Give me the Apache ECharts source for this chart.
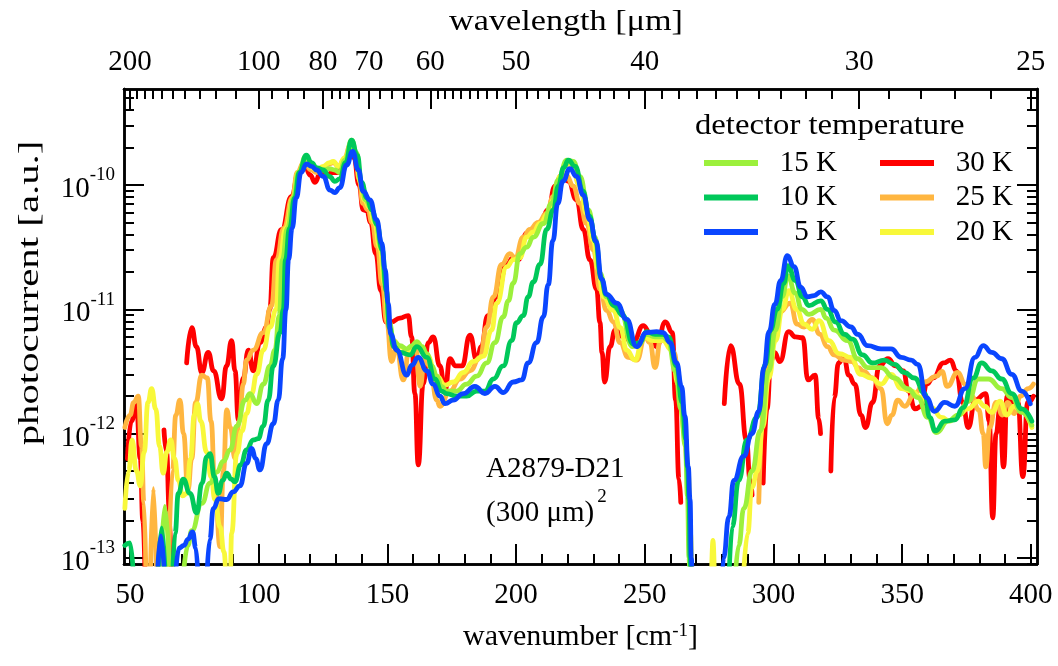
<!DOCTYPE html>
<html>
<head>
<meta charset="utf-8">
<script src="https://cdn.jsdelivr.net/npm/echarts@6/dist/echarts.min.js"></script>
<style>html,body{margin:0;padding:0;background:#fff}#chart{width:1058px;height:666px}</style>
</head>
<body>
<div id="chart"></div>
<script>
// ---------------- data (wavenumber [cm^-1], photocurrent [a.u.]) ----------------
const wavenumberTicks = [50,100,150,200,250,300,350,400];
const wavenumberMinorTicks = [60,70,80,90,110,120,130,140,160,170,180,190,210,220,230,240,260,270,280,290,310,320,330,340,360,370,380,390];
const wavelengthTicks = [200,100,80,70,60,50,40,30,25];
const wavelengthMinorTicks = [190,180,170,160,150,140,130,120,110,95,90,85,78,76,74,72,68,66,64,62,59,58,57,56,55,54,53,52,51,49,48,47,46,45,44,43,42,41,39,38,37,36,35,34,33,32,31,29,28,27,26];
const photocurrentDecades = [1e-13,1e-12,1e-11,1e-10];
const seriesNames = ['30 K','25 K','20 K','15 K','10 K','5 K'];

const pc30K = [[49,6.3e-13],[50.5,1.26e-12],[52.5,1.7e-12],[54,6.3e-13],[55,2.0e-13],[56,5e-14],[60,null],
[63.2,1.07e-12],[64.2,7.1e-13],[65.3,2.4e-13],[66.2,5e-14],[69,null],
[72,3.7e-12],[74,7.1e-12],[75.8,5.0e-12],[77.9,3.1e-12],[80.4,4.5e-12],[82.5,3.2e-12],[85.6,1.9e-12],[87.5,3.5e-12],[89.5,5.6e-12],[90.8,3.2e-12],[92.1,1.3e-12],[94,2.8e-12],[96,4.7e-12],[97.9,3.2e-12],[100.5,5.4e-12],[103.1,7.2e-12],[104.3,1.0e-11],[105.7,2.6e-11],[108.9,4.4e-11],[112.8,8.1e-11],[115.5,1.26e-10],[118.2,1.38e-10],[120,1.2e-10],[121.9,1.05e-10],[124,1.26e-10],[126,1.17e-10],[128.5,1.26e-10],[131,1.26e-10],[133,1.51e-10],[135.5,1.91e-10],[137,1.66e-10],[139,1.0e-10],[140.6,6.3e-11],[142,6.2e-11],[143.5,5.0e-11],[145.5,2.8e-11],[147.5,1.41e-11],[149.5,7.9e-12],[151.5,7.9e-12],[154.9,8.5e-12],[158.1,8.9e-12],[159.4,6.0e-12],[160.7,2.1e-12],[162,5.6e-13],[163.9,2.5e-12],[165.9,5.4e-12],[167.8,6.0e-12],[170.4,3.5e-12],[172.4,2.2e-12],[174.3,4.0e-12],[176.5,3.5e-12],[179,3.5e-12],[182.1,6.2e-12],[184.7,3.9e-12],[186.5,5.0e-12],[189,8.9e-12],[192.5,1.26e-11],[196.4,2.3e-11],[198.9,2.6e-11],[200.9,2.5e-11],[204.1,4.1e-11],[206.7,4.4e-11],[209.3,4.9e-11],[212.5,6.3e-11],[215.1,9.8e-11],[217.7,1.2e-10],[220.3,1.07e-10],[223.5,7.6e-11],[226.1,4.4e-11],[228.7,2.5e-11],[231.3,1.45e-11],[232.6,7.8e-12],[233.4,4.5e-12],[234.4,2.6e-12],[236.5,5.0e-12],[238.5,6.8e-12],[241.7,6.0e-12],[245.5,5.4e-12],[249.4,7.4e-12],[252,6.5e-12],[254.6,5.0e-12],[258,7.9e-12],[260.7,6.5e-12],[262,1.86e-12],[263.3,4.3e-13],[264,2.8e-13],[272,null],
[280.9,1.74e-12],[283.3,5.1e-12],[286.8,2.5e-12],[289.5,8.9e-13],[290.9,4.3e-13],[291.7,3.2e-13],[293.5,null],
[296,4.0e-13],[297.5,1.58e-12],[299,3.8e-12],[300.4,4.5e-12],[302.5,3.8e-12],[305.9,6.6e-12],[308.6,6.0e-12],[311.4,5.9e-12],[313.4,2.7e-12],[316.2,2.95e-12],[317.6,1.32e-12],[318.3,1.0e-12],[320,null],
[322.3,5.0e-13],[323.6,1.95e-12],[325.3,3.7e-12],[327.3,4.2e-12],[329.3,2.95e-12],[331.6,2.5e-12],[334,1.41e-12],[335.8,1.12e-12],[338.5,1.78e-12],[341.2,3.5e-12],[344.5,4.0e-12],[347.5,3.5e-12],[350.5,3.2e-12],[352.4,2.2e-12],[355,1.58e-12],[357.5,1.66e-12],[359.5,2.5e-12],[362,2.8e-12],[366.1,3.7e-12],[368.8,3.9e-12],[371,3.2e-12],[373.5,1.78e-12],[375.7,1.12e-12],[378.4,1.86e-12],[382.5,2.1e-12],[383.8,1.26e-12],[385.2,2.1e-13],[386.5,1.0e-12],[388,1.58e-12],[389.4,5.4e-13],[390.8,2.0e-12],[393,1.78e-12],[395,1.78e-12],[396.9,4.5e-13],[398.8,1.78e-12],[401,2.0e-12]];

const pc25K = [[48,1.12e-12],[50,1.41e-12],[51.5,1.78e-12],[53.2,2.0e-12],[54.5,7.9e-13],[55.4,2.8e-13],[56.3,5e-14],[57,null],
[57.8,5e-14],[59.1,3.6e-13],[60.4,5e-14],[62,null],
[64.8,5e-14],[66.5,5.0e-13],[67.8,1.41e-12],[69.4,1.86e-12],[70.8,1.0e-12],[72.5,3.5e-13],[74,6.3e-13],[75.5,1.78e-12],[77.9,2.95e-12],[80,2.8e-12],[81.5,1.26e-12],[83,3.7e-13],[85,1.23e-13],[86.3,5.0e-13],[87.6,1.55e-12],[89,1.12e-12],[90.8,6.3e-13],[92.5,1.26e-12],[94,2.5e-12],[95.3,3.9e-12],[97.9,4.7e-12],[101.8,6.5e-12],[105,1.07e-11],[106.9,2.5e-11],[109.8,4.5e-11],[113.1,7.9e-11],[115,1.26e-10],[117.5,1.51e-10],[120.5,1.32e-10],[122.5,1.26e-10],[125,1.38e-10],[127.5,1.48e-10],[129,1.51e-10],[131,1.41e-10],[133,1.58e-10],[135.7,2.09e-10],[137.5,1.78e-10],[139,1.12e-10],[140.5,7.1e-11],[142.5,6.3e-11],[144,5.0e-11],[146,3.2e-11],[148,1.58e-11],[149.8,7.9e-12],[151.6,3.8e-12],[153.5,5.0e-12],[156.2,2.7e-12],[158.5,4.8e-12],[161,5.0e-12],[162.7,2.4e-12],[164.5,4.0e-12],[166.5,3.5e-12],[169.2,1.86e-12],[170.4,1.66e-12],[174.3,2.2e-12],[178.2,2.75e-12],[182.1,3.2e-12],[186,4.1e-12],[188.6,7.2e-12],[191.2,1.26e-11],[194.4,2.3e-11],[197.6,2.8e-11],[199.6,2.6e-11],[202.8,3.8e-11],[205.4,4.4e-11],[208.6,5.0e-11],[211.9,5.9e-11],[214.5,8.1e-11],[217.1,1.12e-10],[219.5,1.2e-10],[222.2,9.8e-11],[224.8,7.1e-11],[227.4,4.9e-11],[230,3.0e-11],[232.6,1.45e-11],[235.2,9.8e-12],[237.8,7.9e-12],[240.4,5.4e-12],[243.6,4.1e-12],[246.9,3.9e-12],[250.1,6.0e-12],[252,5.4e-12],[254,3.4e-12],[256.1,5.6e-12],[258.7,6.0e-12],[261.4,4.5e-12],[263.3,2.5e-12],[265.3,1.15e-12],[266.6,5.4e-13],[267.8,1.26e-13],[268.5,5e-14],[280,null],
[294.3,2.8e-13],[296.3,1.86e-12],[299,6.5e-12],[302.5,9.5e-12],[306.5,1.12e-11],[309.2,7.6e-12],[311.9,7.2e-12],[315.1,8.3e-12],[318,6.3e-12],[321,5.0e-12],[323.6,4.3e-12],[327.5,3.9e-12],[330.5,3.8e-12],[333,3.4e-12],[335,3.16e-12],[338.5,2.8e-12],[341.8,2.3e-12],[344.2,1.2e-12],[346,1.41e-12],[348.3,1.86e-12],[351,1.66e-12],[354.9,2.1e-12],[358.8,2.6e-12],[363.4,2.9e-12],[365.5,3.16e-12],[367.5,2.4e-12],[371.6,3.1e-12],[374.5,2.5e-12],[377,2.0e-12],[379.8,1.55e-12],[381.5,1.0e-12],[382.5,5.4e-13],[384,1.12e-12],[386.5,1.78e-12],[389,1.41e-12],[391,1.78e-12],[393.5,1.45e-12],[396,2.0e-12],[399,2.3e-12],[401,2.5e-12]];

const pc20K = [[48,2.5e-13],[49.5,5.0e-13],[50.8,8.9e-13],[52.5,5.0e-13],[54,3.8e-13],[55.5,7.1e-13],[57,1.78e-12],[58.4,2.3e-12],[60,1.58e-12],[61.5,7.9e-13],[62.9,4.8e-13],[64.3,7.1e-13],[65.8,8.9e-13],[67.3,6.3e-13],[68.8,4.2e-13],[70.5,3.16e-13],[72,3.3e-13],[73.5,6.3e-13],[75,1.41e-12],[76.2,1.74e-12],[77.5,1.26e-12],[79.8,7.1e-13],[81.5,4.5e-13],[83,2.95e-13],[85,1.78e-13],[86.5,1.12e-13],[87.8,5e-14],[88.8,5e-14],[89.5,1.58e-13],[91.5,6.9e-13],[93.5,1.05e-12],[95.3,1.45e-12],[97.3,2.1e-12],[99.2,3.0e-12],[101.8,4.7e-12],[104.4,7.2e-12],[106.8,1.0e-11],[108,2.5e-11],[110.6,4.5e-11],[113.5,7.9e-11],[115.3,1.26e-10],[118.3,1.58e-10],[120.5,1.38e-10],[122.5,1.32e-10],[125,1.41e-10],[127.5,1.51e-10],[129,1.55e-10],[131,1.41e-10],[133.5,1.66e-10],[136,2.14e-10],[137.8,1.74e-10],[139.5,1.05e-10],[141,7.6e-11],[143,6.6e-11],[145,5.0e-11],[147,3.16e-11],[149,1.58e-11],[150.5,7.9e-12],[152.5,5.6e-12],[154.9,5.0e-12],[158.8,4.5e-12],[162,5.1e-12],[165.3,4.3e-12],[169.2,2.9e-12],[172.4,2.45e-12],[175.6,2.6e-12],[179.5,3.1e-12],[183.4,3.8e-12],[187.3,4.2e-12],[190.5,6.8e-12],[192.5,1.12e-11],[196.4,2.2e-11],[198.9,2.5e-11],[201.5,2.6e-11],[204.1,3.8e-11],[206.7,4.2e-11],[209.3,4.9e-11],[212.5,5.9e-11],[214.5,7.6e-11],[217.1,1.17e-10],[219,1.45e-10],[221.6,1.41e-10],[224.8,9.8e-11],[227.4,5.9e-11],[230,3.6e-11],[231.9,2.1e-11],[233.9,1.26e-11],[237.8,9.8e-12],[240.5,7.1e-12],[243,4.7e-12],[246.2,3.9e-12],[249.4,6.0e-12],[253.3,5.6e-12],[257,5.6e-12],[260.4,4.7e-12],[263,2.5e-12],[265.6,1.0e-12],[266.9,4.8e-13],[267.8,1.58e-13],[268.3,5e-14],[272,null],
[275.8,5e-14],[276.5,1.38e-13],[277.2,5e-14],[282,null],
[288,5e-14],[290,1.58e-13],[291.6,3.7e-13],[293.8,5.0e-13],[295.8,1.12e-12],[298.2,2.8e-12],[300.8,5.6e-12],[303.5,1.0e-11],[306,1.41e-11],[309,1.0e-11],[311.9,7.6e-12],[315.1,6.9e-12],[317.7,8.1e-12],[321.6,5.6e-12],[325.5,4.4e-12],[330.1,4.1e-12],[333.9,3.0e-12],[337.9,2.8e-12],[341.8,2.5e-12],[345.7,3.0e-12],[349.7,2.3e-12],[353.5,2.2e-12],[357.5,1.95e-12],[361.4,1.62e-12],[365.3,1.35e-12],[368.5,1.26e-12],[371.8,1.41e-12],[375.5,1.58e-12],[379.6,1.82e-12],[382,1.66e-12],[384.8,1.48e-12],[388,1.82e-12],[390.6,1.41e-12],[393.5,1.66e-12],[396.5,1.51e-12],[400.4,1.12e-12]];

const pc15K = [[61.8,6.3e-14],[63.5,2.6e-13],[65.5,6.3e-14],[68,null],
[70.5,6.3e-14],[72.5,1.26e-13],[74,1.66e-13],[77.9,2.75e-13],[81.1,4.0e-13],[83.7,4.9e-13],[86.3,6.0e-13],[88.9,7.4e-13],[91.5,1.15e-12],[94.7,1.86e-12],[96.6,2.1e-12],[99.2,1.74e-12],[101.8,2.5e-12],[104.4,3.5e-12],[106.3,4.7e-12],[108,8.9e-12],[109.2,2.5e-11],[111.2,4.5e-11],[113.5,7.9e-11],[115.5,1.26e-10],[118.3,1.7e-10],[120.5,1.48e-10],[122.5,1.35e-10],[125,1.32e-10],[127.5,1.35e-10],[129.6,1.32e-10],[131.5,1.26e-10],[133.5,1.58e-10],[136.1,2.29e-10],[138,1.82e-10],[139.8,1.05e-10],[141.5,7.6e-11],[143.5,6.6e-11],[145.5,5.0e-11],[147.5,3.16e-11],[149.3,1.58e-11],[150.7,7.9e-12],[152.5,5.5e-12],[154.9,5.1e-12],[157.5,4.8e-12],[159.5,5.1e-12],[161.4,5.5e-12],[163.5,5.0e-12],[165.3,4.4e-12],[167.3,3.5e-12],[169.2,2.9e-12],[171,2.4e-12],[173,2.2e-12],[176.9,2.2e-12],[180.8,2.5e-12],[184.7,2.9e-12],[188.6,3.7e-12],[191.8,5.4e-12],[195,8.7e-12],[197,1.17e-11],[198.9,1.62e-11],[201.5,2.8e-11],[204.1,3.16e-11],[206.7,3.8e-11],[210.6,4.9e-11],[213.8,7.1e-11],[216.4,1.1e-10],[219.7,1.58e-10],[222.2,1.55e-10],[224.8,1.17e-10],[228.1,6.3e-11],[230.7,3.8e-11],[232.6,1.95e-11],[235.2,1.26e-11],[240.4,9.8e-12],[245.3,5.0e-12],[248,5.25e-12],[250.5,6.3e-12],[254,6.0e-12],[257,6.0e-12],[259,5.6e-12],[262,3.16e-12],[264,1.58e-12],[265.8,7.9e-13],[266.6,3.16e-13],[267.2,1.0e-13],[267.6,5e-14],[276,null],
[284.8,5e-14],[286.5,1.26e-13],[288.5,2.5e-13],[291.7,5.0e-13],[294.9,1.05e-12],[298.2,3.2e-12],[300.8,6.8e-12],[303.4,1.26e-11],[305.6,1.86e-11],[308.5,1.35e-11],[311,1.0e-11],[313.8,9.1e-12],[318.4,1.0e-11],[320.5,8.5e-12],[323.6,6.8e-12],[328.8,5.6e-12],[332.7,4.0e-12],[336.6,3.4e-12],[341.8,3.4e-12],[347,2.8e-12],[352.2,2.3e-12],[356.1,1.95e-12],[360,1.35e-12],[363.3,1.02e-12],[367.9,1.26e-12],[371.8,1.41e-12],[375.7,1.82e-12],[379.6,2.75e-12],[383.5,2.75e-12],[388.7,2.3e-12],[392.6,1.95e-12],[396.5,1.48e-12],[400.4,1.17e-12]];

const pc10K = [[48,1.26e-13],[50,1.32e-13],[51.5,6.3e-14],[56,null],
[60.8,6.3e-14],[62.3,1.74e-13],[63.8,6.3e-14],[65.2,null],
[66.5,6.3e-14],[67.5,1.58e-13],[68.8,3.3e-13],[70.7,4.3e-13],[73.3,3.3e-13],[75.9,2.3e-13],[78,4.0e-13],[79.8,6.5e-13],[81.1,6.9e-13],[82.8,4.5e-13],[84.3,3.3e-13],[86,4.2e-13],[87.6,4.8e-13],[89.3,4.3e-13],[90.8,4.1e-13],[93,5.6e-13],[95.3,7.4e-13],[97.9,8.9e-13],[99.8,9.1e-13],[101.8,1.15e-12],[103.7,1.86e-12],[105.7,3.5e-12],[108.3,6.5e-12],[109.6,1.0e-11],[110.4,2.5e-11],[112,4.5e-11],[114,7.9e-11],[115.8,1.26e-10],[118.5,1.74e-10],[120.5,1.51e-10],[122.5,1.38e-10],[125,1.32e-10],[127.5,1.17e-10],[129.6,1.07e-10],[131.5,1.12e-10],[133.8,1.51e-10],[136.1,2.29e-10],[138.3,1.74e-10],[140,1.05e-10],[142,7.9e-11],[144,6.3e-11],[146,4.8e-11],[148,3.0e-11],[149.6,1.41e-11],[150.8,7.1e-12],[152.5,5.0e-12],[155,4.5e-12],[158.8,4.3e-12],[161.5,5.0e-12],[165.3,4.1e-12],[168.5,2.75e-12],[171,2.2e-12],[173,2.1e-12],[176.9,2.0e-12],[180.8,2.0e-12],[184.7,2.2e-12],[187.9,2.2e-12],[191.2,2.75e-12],[195,3.5e-12],[198.3,5.6e-12],[200.2,7.8e-12],[202.8,8.9e-12],[204.7,1.26e-11],[206.7,1.66e-11],[209.3,2.3e-11],[211.9,4.4e-11],[214.5,6.3e-11],[216.4,9.8e-11],[218.5,1.38e-10],[220.3,1.58e-10],[223,1.41e-10],[226,8.9e-11],[228.5,5.6e-11],[231,3.5e-11],[233,1.78e-11],[235,1.32e-11],[238,1.07e-11],[241.5,8.9e-12],[245.5,5.25e-12],[248,5.4e-12],[250.7,6.6e-12],[254,6.3e-12],[257,6.3e-12],[259.2,6.0e-12],[262.4,3.5e-12],[264.5,1.78e-12],[266,8.9e-13],[266.6,5.4e-13],[267.2,2.95e-13],[267.6,1.0e-13],[268,5e-14],[275,null],
[282.5,5e-14],[284,1.78e-13],[286.5,4.2e-13],[289.7,8.9e-13],[293.6,1.35e-12],[296.9,3.6e-12],[298.8,6.8e-12],[301.4,1.0e-11],[304,1.62e-11],[305.6,2.24e-11],[308.6,1.7e-11],[311.2,1.26e-11],[313.8,1.07e-11],[318.4,1.17e-11],[321,1.0e-11],[324.2,7.9e-12],[327.5,6.3e-12],[330.7,5.75e-12],[334.6,4.3e-12],[338.5,3.7e-12],[343.1,3.9e-12],[347,3.6e-12],[350.9,3.1e-12],[354.8,2.8e-12],[358.8,2.1e-12],[360.7,1.35e-12],[362.9,1.05e-12],[366.6,1.26e-12],[370.5,1.29e-12],[373.7,1.62e-12],[377.6,2.8e-12],[380.9,3.7e-12],[384.8,3.2e-12],[388.7,2.75e-12],[392.6,2.1e-12],[396.5,1.58e-12],[400.4,1.26e-12]];

const pc5K = [[60.5,6.3e-14],[62,1.5e-13],[63.5,6.3e-14],[65,null],
[67.5,6.3e-14],[69,1.2e-13],[71,1.26e-13],[72.5,1.41e-13],[74.3,1.62e-13],[75.6,1.2e-13],[76.5,6.3e-14],[78,null],
[79.8,6.3e-14],[81,1.41e-13],[82.4,2.5e-13],[84.5,3.0e-13],[87.6,2.95e-13],[90.1,3.4e-13],[92.7,3.8e-13],[95.3,5.75e-13],[97.3,7.6e-13],[98.8,6.3e-13],[100.5,5.1e-13],[103.1,8.3e-13],[105.7,1.2e-12],[107.6,1.86e-12],[109.3,4.0e-12],[110.6,1.0e-11],[111.6,2.5e-11],[113,4.5e-11],[114.6,7.9e-11],[116.5,1.26e-10],[118.6,1.48e-10],[120.5,1.41e-10],[122.5,1.32e-10],[125.1,1.17e-10],[127.7,9.1e-11],[129.6,8.7e-11],[131.5,9.5e-11],[134.2,1.45e-10],[136.5,1.86e-10],[138.7,1.32e-10],[140.6,8.9e-11],[143.2,7.6e-11],[145.8,5.25e-11],[147.8,3.4e-11],[149.1,2.1e-11],[150.3,1.12e-11],[151.3,6.3e-12],[153.6,4.7e-12],[157.5,2.95e-12],[159.5,3.55e-12],[162,4.1e-12],[165.3,3.2e-12],[167.8,2.5e-12],[170.4,2.0e-12],[172.4,1.74e-12],[175.6,1.86e-12],[179.5,2.1e-12],[184,2.4e-12],[187.9,2.1e-12],[191.8,2.4e-12],[195,2.14e-12],[198.9,2.6e-12],[202.2,2.7e-12],[204.7,3.7e-12],[208,5.4e-12],[210.6,8.7e-12],[212.5,1.58e-11],[214.3,3.55e-11],[216.2,7.1e-11],[218.2,1.07e-10],[220.9,1.35e-10],[223.5,1.17e-10],[226.1,8.3e-11],[228.7,5.25e-11],[231,3.55e-11],[233.3,1.74e-11],[235.2,1.32e-11],[239.1,1.12e-11],[243,8.3e-12],[246.8,5.0e-12],[250.7,6.5e-12],[254.6,6.6e-12],[257.2,6.5e-12],[259.8,5.4e-12],[262.4,3.7e-12],[264.3,2.4e-12],[265.6,1.38e-12],[266.9,5.4e-13],[267.6,2.95e-13],[268.1,1.0e-13],[268.5,5e-14],[274,null],
[279.8,5e-14],[280.6,1.0e-13],[282.7,2.14e-13],[284.6,4.2e-13],[288.5,6.6e-13],[291.6,1.0e-12],[294.3,1.51e-12],[296.3,3.4e-12],[298.3,6.6e-12],[300.6,1.1e-11],[302.8,1.7e-11],[305.4,2.7e-11],[308,2.2e-11],[310.6,1.51e-11],[313.2,1.26e-11],[315.8,1.29e-11],[318.4,1.38e-11],[321,1.26e-11],[323.6,9.8e-12],[326.2,8.1e-12],[330.1,7.2e-12],[332.7,6.3e-12],[336.6,5.1e-12],[341.8,4.8e-12],[345.7,4.8e-12],[349.7,4.1e-12],[353.5,3.9e-12],[356.1,3.6e-12],[359.4,1.95e-12],[362.6,1.51e-12],[366.5,1.78e-12],[370.5,1.66e-12],[374.4,2.3e-12],[378.3,4.1e-12],[381.5,5.1e-12],[384.8,4.5e-12],[388.7,4.0e-12],[392.6,3.0e-12],[396.5,2.2e-12],[399.8,1.74e-12]];

const seriesData = [pc30K, pc25K, pc20K, pc15K, pc10K, pc5K];
const seriesColors = ['#ff0000','#ffb640','#f8f83a','#9cf03c','#00c85a','#0a46ff'];

// ---------------- layout / styling ----------------
const FONT = '"Liberation Serif","Times New Roman",serif';
const X_MIN = 47.67, X_MAX = 402.4;
const Y_MIN = -13.049, Y_MAX = -9.228;
const log10 = v => (v == null ? null : Math.log10(v));

const yMajor = photocurrentDecades.map(log10);
const yMinor = [];
[1e-14,1e-13,1e-12,1e-11,1e-10].forEach(d => { for (let k = 2; k <= 9; k++) { const l = Math.log10(k * d); if (l > Y_MIN && l < Y_MAX) yMinor.push(l); } });
const topMajor = wavelengthTicks.map(l => 1e4 / l);
const topMinor = wavelengthMinorTicks.map(l => 1e4 / l);

const axisLineStyle = { show: true, onZero: false, lineStyle: { color: '#000', width: 2.5 } };
const tickStyle = { color: '#000', width: 2 };
function xAx(position, ticks, len, label) {
  return {
    type: 'value', min: X_MIN, max: X_MAX, position: position,
    splitLine: { show: false }, axisLine: axisLineStyle,
    axisTick: { show: true, inside: true, length: len, lineStyle: tickStyle, customValues: ticks },
    axisLabel: label ? label : { show: false }
  };
}
function yAx(position, ticks, len, label) {
  return {
    type: 'value', min: Y_MIN, max: Y_MAX, position: position,
    splitLine: { show: false }, axisLine: axisLineStyle,
    axisTick: { show: true, inside: true, length: len, lineStyle: tickStyle, customValues: ticks },
    axisLabel: label ? label : { show: false }
  };
}

const bottomAxis = xAx('bottom', wavenumberTicks, 20, {
  customValues: wavenumberTicks, margin: 17, fontSize: 29, fontFamily: FONT, color: '#000'
});
bottomAxis.name = 'wavenumber [cm{s|-1}]';
bottomAxis.nameLocation = 'middle';
bottomAxis.nameGap = 58;
bottomAxis.nameTextStyle = { fontSize: 30, fontFamily: FONT, color: '#000',
  rich: { s: { fontSize: 19, fontFamily: FONT, color: '#000', verticalAlign: 'top', lineHeight: 14 } } };

const topAxis = xAx('top', topMajor, 20, {
  customValues: topMajor, margin: 12, fontSize: 29, fontFamily: FONT, color: '#000',
  formatter: v => String(Math.round(1e4 / v))
});

const leftAxis = yAx('left', yMajor, 20, {
  customValues: yMajor, margin: 9,
  formatter: v => '{b|10}{s|' + Math.round(v) + '}',
  rich: {
    b: { fontSize: 29, fontFamily: FONT, color: '#000', lineHeight: 38, verticalAlign: 'bottom' },
    s: { fontSize: 19, fontFamily: FONT, color: '#000', lineHeight: 20, verticalAlign: 'top' }
  }
});

const series = seriesNames.map((name, i) => ({
  name: name, type: 'line', xAxisIndex: 0, yAxisIndex: 0,
  data: seriesData[i].map(p => [p[0], log10(p[1])]),
  showSymbol: false, symbol: 'none', smooth: 0.5, smoothMonotone: 'x',
  connectNulls: false, clip: true,
  lineStyle: { color: seriesColors[i], width: 4.8, cap: 'round', join: 'round' },
  itemStyle: { color: seriesColors[i] },
  emphasis: { disabled: true }
}));

const legendBase = {
  orient: 'vertical', top: 143, itemWidth: 54, itemHeight: 6, itemGap: 4.5, icon: 'rect',
  selectedMode: false,
  formatter: n => '{t|' + n + '}',
  textStyle: { fontSize: 29, fontFamily: FONT, color: '#000', lineHeight: 30,
    rich: { t: { width: 74, align: 'right', fontSize: 29, fontFamily: FONT, color: '#000', lineHeight: 30 } } }
};

const option = {
  animation: false,
  backgroundColor: '#ffffff',
  grid: { left: 124, right: 21, top: 89, bottom: 102 },
  legend: [
    Object.assign({}, legendBase, { left: 699, data: ['15 K', '10 K', '5 K'] }),
    Object.assign({}, legendBase, { left: 875, data: ['30 K', '25 K', '20 K'] })
  ],
  xAxis: [bottomAxis, xAx('bottom', wavenumberMinorTicks, 10), topAxis, xAx('top', topMinor, 10)],
  yAxis: [leftAxis, yAx('left', yMinor, 10), yAx('right', yMajor, 20), yAx('right', yMinor, 10)],
  series: series,
  graphic: [
    { type: 'text', x: 566, y: 22, scaleX: 1.14, style: { text: 'wavelength [μm]', fontSize: 30, fontFamily: FONT, fill: '#000', align: 'center', verticalAlign: 'middle' } },
    { type: 'text', x: 695, y: 126, scaleX: 1.09, style: { text: 'detector temperature', fontSize: 30, fontFamily: FONT, fill: '#000', align: 'left', verticalAlign: 'middle' } },
    { type: 'text', x: 30, y: 293, rotation: Math.PI / 2, scaleX: 1.36, style: { text: 'photocurrent [a.u.]', fontSize: 30, fontFamily: FONT, fill: '#000', align: 'center', verticalAlign: 'middle' } },
    { type: 'text', x: 486, y: 469, style: { text: 'A2879-D21', fontSize: 29, fontFamily: FONT, fill: '#000', align: 'left', verticalAlign: 'middle' } },
    { type: 'text', x: 486, y: 513, style: { text: '{b|(300 μm)}{s|2}', fontSize: 29, fontFamily: FONT, fill: '#000', align: 'left', verticalAlign: 'middle',
      rich: { b: { fontSize: 29, fontFamily: FONT, fill: '#000', lineHeight: 51 },
              s: { fontSize: 19, fontFamily: FONT, fill: '#000', lineHeight: 19, verticalAlign: 'top', padding: [0, 0, 0, 3] } } } }
  ]
};

const chart = echarts.init(document.getElementById('chart'), null, { renderer: 'canvas' });
chart.setOption(option);
</script>
</body>
</html>
